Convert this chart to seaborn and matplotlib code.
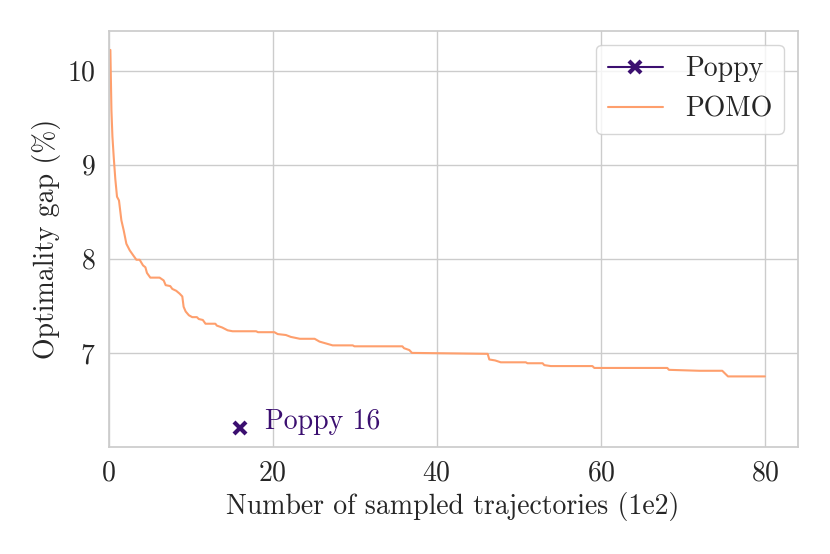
import matplotlib
matplotlib.use('Agg')
import matplotlib.pyplot as plt
from matplotlib.lines import Line2D
import seaborn as sns
import pandas as pd

# POMO curve
pomo_x = [0.2, 0.33, 0.45, 0.61, 0.8, 1.01, 1.25, 1.54, 1.83, 2.15, 2.56, 2.96,
          3.37, 3.77, 4.18, 4.47, 4.66, 5.07, 6.2, 6.7, 6.94, 7.5, 7.75, 8.23,
          8.64, 8.97, 9.13, 9.38, 9.77, 10.18, 10.75, 10.98, 11.47, 11.8, 13.0,
          13.18, 13.83, 14.5, 15.1, 17.97, 18.2, 20.2, 20.6, 21.6, 22.2, 23.3,
          25.1, 25.7, 26.5, 27.3, 29.75, 29.95, 35.8, 36.0, 36.65, 36.97, 46.2,
          46.4, 47.1, 47.8, 50.85, 51.05, 52.9, 53.1, 53.9, 58.97, 59.2, 68.1,
          68.3, 72.0, 74.8, 75.5, 80.0]
pomo_y = [10.22, 9.58, 9.30, 9.08, 8.85, 8.66, 8.62, 8.41, 8.30, 8.16, 8.09, 8.04,
          7.99, 7.99, 7.93, 7.91, 7.85, 7.80, 7.80, 7.77, 7.72, 7.71, 7.68, 7.66,
          7.63, 7.60, 7.49, 7.44, 7.40, 7.38, 7.38, 7.36, 7.35, 7.31, 7.31,
          7.29, 7.27, 7.24, 7.23, 7.23, 7.22, 7.22, 7.20, 7.19, 7.17, 7.15,
          7.15, 7.12, 7.10, 7.08, 7.08, 7.07, 7.07, 7.05, 7.03, 7.00, 6.99,
          6.93, 6.92, 6.90, 6.90, 6.89, 6.89, 6.87, 6.86, 6.86, 6.84, 6.84,
          6.82, 6.81, 6.81, 6.75, 6.75]

# Poppy single point
poppy_x = [16]
poppy_y = [6.2]
poppy_label = 'Poppy 16'

COLOR_POPPY = '#3b0f70'
COLOR_POMO = '#fe9f6d'
FS = 20

sns.set_theme(style='whitegrid')
plt.rcParams['font.family'] = ['cmr10', 'DejaVu Serif']
plt.rcParams['axes.formatter.use_mathtext'] = True
plt.rcParams['mathtext.fontset'] = 'cm'

fig, ax = plt.subplots(figsize=(8.3, 5.54), dpi=100)
fig.subplots_adjust(left=0.131, right=0.961, top=0.944, bottom=0.193)

df = pd.DataFrame({'x': pomo_x, 'y': pomo_y})
sns.lineplot(data=df, x='x', y='y', ax=ax, color=COLOR_POMO, linewidth=1.5,
             sort=False, estimator=None, legend=False, zorder=2)
ax.plot(poppy_x, poppy_y, color=COLOR_POPPY, marker='x', markersize=8,
        markeredgewidth=3, linestyle='None', zorder=3)

handles = [Line2D([], [], color=COLOR_POPPY, marker='x', markersize=8,
                  markeredgewidth=3, linewidth=1.5),
           Line2D([], [], color=COLOR_POMO, linewidth=1.5)]
ax.legend(handles, ['Poppy', 'POMO'], loc='upper right', fontsize=FS,
          handlelength=2.0)

ax.text(poppy_x[0] + 3.1, poppy_y[0] + 0.07, poppy_label, color=COLOR_POPPY,
        fontsize=FS, va='center', ha='left')

ax.set_xlim(left=0)
ax.set_yticks([7, 8, 9, 10])
ax.set_xticks([0, 20, 40, 60, 80])
ax.tick_params(labelsize=FS)
ax.set_xlabel('Number of sampled trajectories (1e2)', fontsize=FS)
ax.set_ylabel('Optimality gap (%)', fontsize=FS)

plt.savefig('out.png', dpi=100)
